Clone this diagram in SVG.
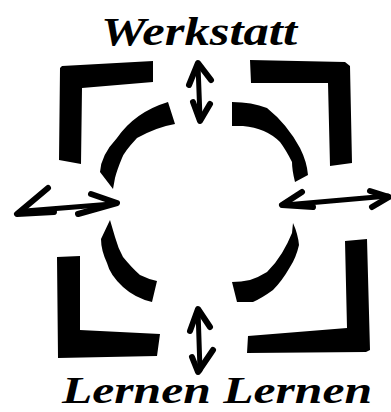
<svg xmlns="http://www.w3.org/2000/svg" width="391" height="412" viewBox="0 0 391 412">
<style>
.ink{fill:#000;stroke:none}
.arr{fill:none;stroke:#000;stroke-width:6;stroke-linecap:round;stroke-linejoin:round}
.shaft{fill:none;stroke:#000;stroke-width:5;stroke-linecap:round}
.lbl{font-family:"Liberation Serif","DejaVu Serif",serif;font-style:italic;font-weight:bold;fill:#000}
</style>
<rect width="391" height="412" fill="#fff"/>
<g id="frame">
<polygon class="ink" points="62,66 153,61 153,82 82,88 81,164 59,160 60,68"/>
<polygon class="ink" points="250,60 345,62 350,66 352,163 330,166 328,83 251,83"/>
<polygon class="ink" points="57,257 80,256 80,330 160,334 157,356 58,358"/>
<polygon class="ink" points="345,241 367,239 370,350 366,352 247,353 248,336 347,328"/>
</g>
<g id="circle">
<path class="ink" d="M168,102 L175,124 Q157,127 137,138 Q124,152 122,158 Q117,170 115,178 L113,189 L100,172 Q101,155 117,138 Q135,112 168,102 Z"/>
<path class="ink" d="M232,102 Q252,102 267,108 Q287,124 300,148 Q307,162 308,175 L295,182 Q292,170 292,162 Q286,150 280,142 Q266,128 243,126 L232,126 Z"/>
<path class="ink" d="M110,220 L115,237 Q118,248 123,257 Q132,268 140,275 Q148,279 157,281 L152,302 Q135,298 123,287 Q110,275 107,263 Q101,250 101,239 Z"/>
<path class="ink" d="M293,223 Q298,234 299,245 Q296,258 290,267 Q282,281 273,290 Q262,298 253,302 L237,302 L232,282 Q241,282 250,280 Q259,277 267,272 Q276,263 282,253 Q288,243 292,233 Z"/>
</g>
<g id="connectors">
<g id="arrow-top">
<line class="shaft" x1="198" y1="65" x2="200" y2="118"/>
<polyline class="arr" points="189,85 198,63 211,80"/>
<polyline class="arr" points="193,102 200,121 210,104"/>
</g>
<g id="arrow-bottom">
<line class="shaft" x1="198" y1="310" x2="200" y2="370"/>
<polyline class="arr" points="190,331 198,309 210,327"/>
<polyline class="arr" points="192,357 198,372 213,350"/>
</g>
<g id="arrow-left">
<line class="shaft" x1="25" y1="211" x2="112" y2="204"/>
<polyline class="arr" points="48,188 17,214 54,212"/>
<polyline class="arr" points="91,194 117,203 78,214"/>
</g>
<g id="arrow-right">
<line class="shaft" x1="285" y1="205" x2="388" y2="196"/>
<polyline class="arr" points="302,192 282,205 313,207"/>
<polyline class="arr" points="370,191 389,197 372,207"/>
</g>
</g>
<g id="label-werkstatt">
<text class="lbl" x="101" y="45" font-size="40" textLength="196" lengthAdjust="spacingAndGlyphs">Werkstatt</text>
</g>
<g id="label-lernen">
<text class="lbl" x="62" y="403" font-size="38" textLength="310" lengthAdjust="spacingAndGlyphs">Lernen Lernen</text>
</g>
</svg>
